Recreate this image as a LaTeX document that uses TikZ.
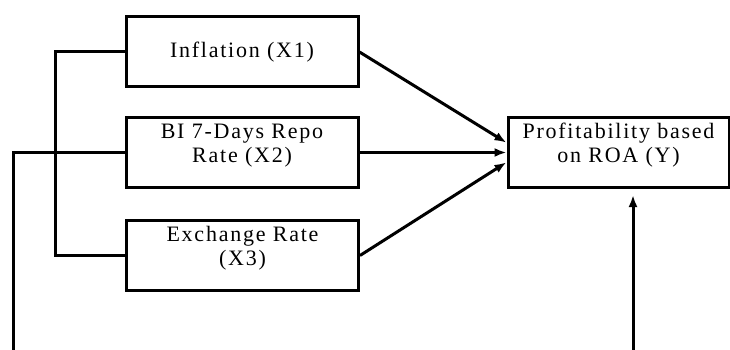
\documentclass[tikz,border=0pt]{standalone}
\usepackage{fontspec}
\setmainfont{Liberation Serif}[LetterSpace=8]
\usetikzlibrary{arrows.meta}
\tikzset{
  box/.style={draw, rectangle, line width=3pt, minimum width=232pt, minimum height=70pt,
    align=center, font=\fontsize{22}{24}\selectfont},
  twoline/.style={text depth=19pt},
  conn/.style={line width=3pt},
  arr/.style={line width=3pt, -{Latex[length=12pt,width=9pt]}}
}
\begin{document}
\begin{tikzpicture}[x=1pt,y=-1pt]
\useasboundingbox (0,0) rectangle (730,350);
\node[box] (x1) at (242,52) {Inflation (X1)};
\node[box, twoline] (x2) at (242,152.5) {BI 7-Days Repo\\Rate (X2)};
\node[box, twoline] (x3) at (242.5,255.5) {Exchange Rate\\(X3)};
\node[box, twoline, minimum width=221pt] (y) at (618.5,152.5) {Profitability based\\on ROA (Y)};
\coordinate (x2foot) at (13,352);
\coordinate (yfoot) at (633,352);
\draw[conn] (x1.west) -- ++(-69,0) |- (x3.west);
\draw[conn] (x2.west) -| (x2foot);
\draw[arr] (x1.east) -- (y.175);
\draw[arr] (x2.east) -- (y.west);
\draw[arr] (x3.east) -- (y.185);
\draw[arr, shorten >=6pt] (yfoot) -- (yfoot |- y.south);
\end{tikzpicture}
\end{document}
